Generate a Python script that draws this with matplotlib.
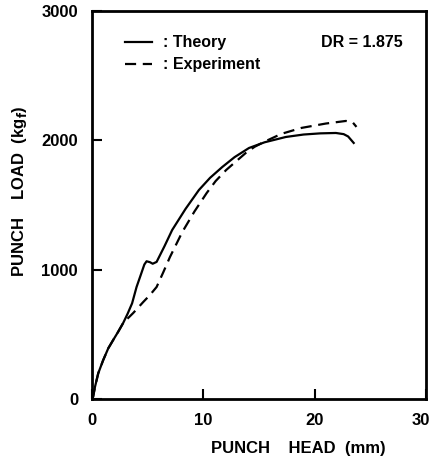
import matplotlib
matplotlib.use('Agg')
from matplotlib import pyplot as plt
from matplotlib.transforms import ScaledTranslation

plt.rcParams['font.family'] = ['Liberation Sans', 'DejaVu Sans']
plt.rcParams['font.weight'] = 'bold'
plt.rcParams['axes.labelweight'] = 'bold'

# punch head stroke (mm) vs punch load (kgf)
theory_x = [0, 0.1, 0.27, 0.56, 1.0, 1.46, 1.9, 2.35, 2.8, 3.2, 3.6, 4.0,
            4.4, 4.7, 4.9, 5.2, 5.45, 5.8, 6.5, 7.2, 8.4, 9.6, 10.6, 11.7,
            12.8, 14.1, 15.5, 17.4, 19.0, 20.5, 21.9, 22.6, 23.0, 23.5]
theory_y = [0, 18, 95, 199, 300, 392, 456, 520, 588, 660, 740, 866,
            965, 1040, 1065, 1058, 1046, 1060, 1180, 1307, 1470, 1616, 1710, 1794,
            1870, 1941, 1985, 2026, 2045, 2054, 2057, 2048, 2030, 1980]

exp_x = [0, 0.1, 0.27, 0.56, 1.0, 1.46, 1.9, 2.35, 2.8, 3.7, 4.6, 5.2, 5.8,
         6.4, 7.0, 8.1, 9.2, 10.3, 11.1, 12.05, 13.8, 14.6, 15.5, 17.0, 18.8,
         21.0, 22.8, 23.4, 23.75]
exp_y = [0, 18, 95, 199, 300, 392, 456, 520, 588, 665, 750, 804, 866,
         980, 1098, 1290, 1450, 1593, 1685, 1771, 1902, 1950, 1990, 2050, 2096,
         2130, 2150, 2140, 2104]

x_ticks = [0, 10, 20, 30]
y_ticks = [0, 1000, 2000, 3000]

fig = plt.figure(figsize=(4.33, 4.59), dpi=100)
ax = fig.add_axes([0.2125, 0.1307, 0.7715, 0.8453])

ax.plot(theory_x, theory_y, 'k-', lw=1.6, solid_joinstyle='round',
        label=': Theory')
ax.plot(exp_x, exp_y, 'k--', lw=1.6, dashes=(5, 3), dash_joinstyle='round',
        label=': Experiment')

ax.set_xlim(0, 30)
ax.set_ylim(0, 3000)
ax.set_xticks(x_ticks)
ax.set_yticks(y_ticks)
ax.tick_params(direction='in', length=7, width=1.5, labelsize=12, pad=10)
for s in ax.spines.values():
    s.set_linewidth(2)

# last x label sits right on the figure edge, nudge it in a little
last = ax.get_xticklabels()[-1]
last.set_transform(last.get_transform() + ScaledTranslation(-4 / 72, 0, fig.dpi_scale_trans))

ax.set_xlabel('PUNCH    HEAD  (mm)', fontsize=12)
ax.set_ylabel('PUNCH    LOAD  (kg$_\\mathbf{f}$)', fontsize=12)
ax.xaxis.set_label_coords(0.617, -0.108)
ax.yaxis.set_label_coords(-0.19, 0.535)

ax.legend(loc='upper left', bbox_to_anchor=(0.055, 0.975), frameon=False,
          fontsize=11.5, handlelength=1.7, handletextpad=0.7, labelspacing=0.45)
ax.text(0.93, 0.92, 'DR = 1.875', transform=ax.transAxes, ha='right',
        va='center', fontsize=11.5)

plt.savefig('out.png', dpi=100)
